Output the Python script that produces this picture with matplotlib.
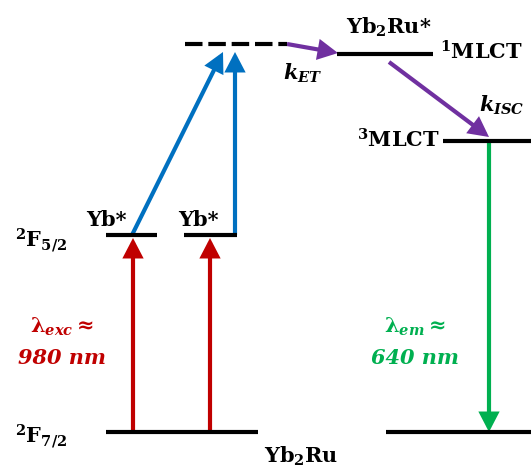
import matplotlib
matplotlib.use("Agg")
import matplotlib.pyplot as plt
from matplotlib.patches import FancyArrowPatch

plt.rcParams['mathtext.fontset'] = 'custom'
plt.rcParams['mathtext.rm'] = 'DejaVu Serif:bold'
plt.rcParams['mathtext.bf'] = 'DejaVu Serif:bold'
plt.rcParams['mathtext.it'] = 'DejaVu Serif:bold:italic'
plt.rcParams['mathtext.cal'] = 'DejaVu Serif:bold'
plt.rcParams['font.family'] = 'DejaVu Serif'

# ---- data: energy levels (name, x-start, x-end, energy) ----
level_names = ["ground_Yb", "ground_Ru", "Yb*_1", "Yb*_2", "virtual", "1MLCT", "3MLCT"]
level_x0 = [106, 386, 106, 184, 185, 337, 443]
level_x1 = [258, 531, 157, 237, 287, 433, 531]
level_E = [35, 35, 232, 232, 423, 413, 326]
level_dashed = [False, False, False, False, True, False, False]

# ---- transitions (x0, E0, x1, E1, colour) ----
arrow_x0 = [133, 210, 132, 235, 287, 389, 489]
arrow_E0 = [35, 35, 232, 232, 423, 405, 326]
arrow_x1 = [133, 210, 223, 235, 338, 489, 489]
arrow_E1 = [229, 229, 415, 415, 414, 330, 35]
arrow_colors = ["#C00000", "#C00000", "#0070C0", "#0070C0", "#7030A0", "#7030A0", "#00B050"]

fig = plt.figure(figsize=(5.31, 4.67), dpi=100)
ax = fig.add_axes([0, 0, 1, 1])
ax.set_xlim(0, 531)
ax.set_ylim(0, 467)
ax.axis('off')

for x0, x1, E, d in zip(level_x0, level_x1, level_E, level_dashed):
    if d:
        ax.plot([x0, x1], [E, E], color='black', lw=3.0, ls=(0, (4.2, 1.4)),
                solid_capstyle='butt', dash_capstyle='butt')
    else:
        ax.plot([x0, x1], [E, E], color='black', lw=3.0, solid_capstyle='butt')

for x0, E0, x1, E1, c in zip(arrow_x0, arrow_E0, arrow_x1, arrow_E1, arrow_colors):
    a = FancyArrowPatch((x0, E0), (x1, E1),
                        arrowstyle='-|>,head_length=10,head_width=5.2',
                        mutation_scale=1, lw=3.0, color=c,
                        shrinkA=0, shrinkB=0, joinstyle='miter', capstyle='butt')
    ax.add_patch(a)

fs = 15
kw = dict(fontsize=fs, fontweight='bold')
ax.text(41, 226, r'$^{2}\mathrm{F}_{5/2}$', ha='center', va='center', **kw)
ax.text(41, 30, r'$^{2}\mathrm{F}_{7/2}$', ha='center', va='center', **kw)
ax.text(106, 247, 'Yb*', ha='center', va='center', **kw)
ax.text(198, 247, 'Yb*', ha='center', va='center', **kw)
ax.text(389, 440, r'Yb$_\mathrm{2}$Ru*', ha='center', va='center', **kw)
ax.text(481, 415, r'$^{1}\mathrm{MLCT}$', ha='center', va='center', **kw)
ax.text(398, 327, r'$^{3}\mathrm{MLCT}$', ha='center', va='center', **kw)
ax.text(303, 394, r'$k_{ET}$', ha='center', va='center', **kw)
ax.text(502, 362, r'$k_{ISC}$', ha='center', va='center', **kw)
ax.text(301, 11, r'Yb$_\mathrm{2}$Ru', ha='center', va='center', **kw)

ax.text(62, 140, r'$\mathrm{\lambda}_{exc}\approx$', ha='center', va='center',
        color='#C00000', **kw)
ax.text(62, 109, '980 nm', ha='center', va='center', color='#C00000',
        fontstyle='italic', **kw)
ax.text(415, 140, r'$\mathrm{\lambda}_{em}\approx$', ha='center', va='center',
        color='#00B050', **kw)
ax.text(415, 109, '640 nm', ha='center', va='center', color='#00B050',
        fontstyle='italic', **kw)

fig.savefig('out.png', dpi=100)
